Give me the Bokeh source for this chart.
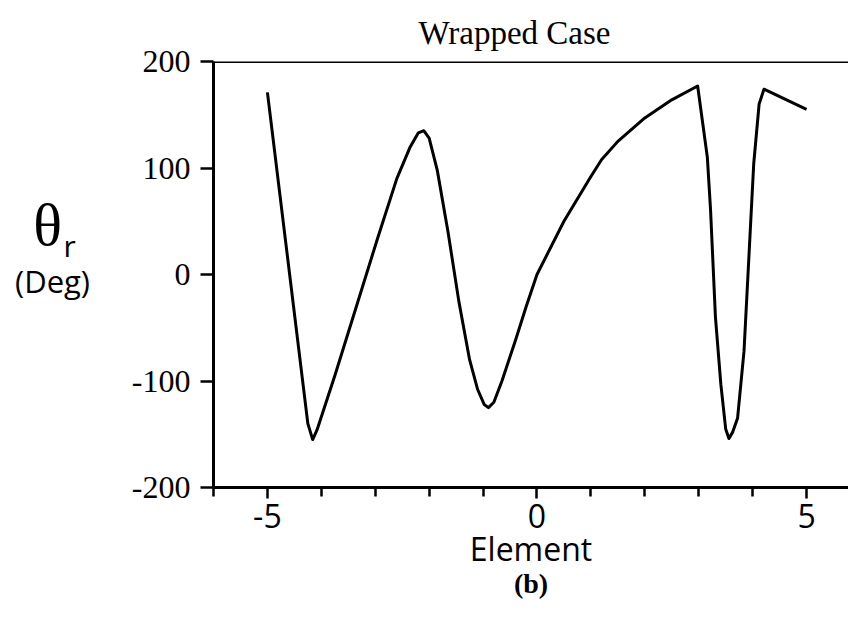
from bokeh.plotting import figure
from bokeh.layouts import row
from bokeh.models import LinearAxis, FixedTicker, Span, Range1d, Title
from bokeh.core.properties import value
from bokeh.embed import file_html
from bokeh.resources import INLINE

# ---- data ----
element = [-5.0, -4.25, -4.16, -4.08, -3.75, -3.35, -2.95, -2.6, -2.35, -2.2, -2.1, -2.0,
           -1.85, -1.65, -1.45, -1.25, -1.1, -0.98, -0.9, -0.8, -0.65, -0.4, -0.2, 0.0, 0.5,
           1.0, 1.2, 1.5, 2.0, 2.5, 2.98, 3.16, 3.22, 3.31, 3.41, 3.5, 3.56, 3.63,
           3.72, 3.84, 3.93, 4.02, 4.12, 4.21, 5.0]
theta_r = [171, -140, -155, -146, -95, -30, 35, 90, 120, 133, 135, 128,
           98, 40, -25, -80, -108, -122, -125, -120, -100, -62, -30, 0, 50,
           92, 108, 125, 147, 164, 177, 110, 60, -40, -103, -145, -154, -148,
           -135, -72, 16, 104, 160, 174, 155]

y_ticks = [-200, -100, 0, 100, 200]
x_labels = [-5, 0, 5]
x_minor = [-6, -4, -3, -2, -1, 1, 2, 3, 4]

side_texts = ["θ", "r", "(Deg)"]

# ---- left strip with the y-axis title (θr / (Deg)) ----
side = figure(width=100, height=617, x_range=Range1d(0, 100), y_range=Range1d(617, 0),
              x_axis_type=None, y_axis_type=None, output_backend="svg", toolbar_location=None,
              min_border=0)
side.outline_line_color = None
side.text(x=[47], y=[237], text=[side_texts[0]], text_align="center", text_baseline="alphabetic",
          text_font=value("Liberation Serif"), text_font_size="60px", text_color="black")
side.text(x=[63], y=[266], text=[side_texts[1]], text_align="left", text_baseline="alphabetic",
          text_font=value("Open Sans"), text_font_size="30px", text_color="black")
side.text(x=[52], y=[318], text=[side_texts[2]], text_align="center", text_baseline="alphabetic",
          text_font=value("Open Sans"), text_font_size="31px", text_color="black")

# ---- main plot ----
p = figure(width=748, height=617, x_range=Range1d(-6, 5.778), y_range=Range1d(-200, 200),
           x_axis_type=None, y_axis_type=None, output_backend="svg", toolbar_location=None)
p.min_border_left = 113
p.min_border_right = 0
p.min_border_top = 61
p.min_border_bottom = 130
p.outline_line_color = None

p.title.text = "Wrapped Case"
p.title.align = "left"
p.title.offset = 205
p.title.text_font = "Liberation Serif"
p.title.text_font_size = "33px"
p.title.text_font_style = "normal"
p.title.text_color = "black"
p.title.standoff = 22

yaxis = LinearAxis(ticker=FixedTicker(ticks=y_ticks, minor_ticks=[]),
                   major_label_overrides={-200: "-200", -100: "-100"})
yaxis.axis_line_width = 3
yaxis.major_tick_line_width = 2.5
yaxis.major_tick_out = 13
yaxis.major_tick_in = 0
yaxis.minor_tick_out = 0
yaxis.major_label_text_font = "Liberation Serif"
yaxis.major_label_text_font_size = "32px"
yaxis.major_label_text_color = "black"
yaxis.major_label_standoff = 10
p.add_layout(yaxis, "left")

xaxis = LinearAxis(ticker=FixedTicker(ticks=x_labels, minor_ticks=x_minor),
                   major_label_overrides={-5: "-5"})
xaxis.axis_line_width = 3
xaxis.major_tick_line_width = 2.5
xaxis.minor_tick_line_width = 2.5
xaxis.major_tick_out = 11
xaxis.major_tick_in = 0
xaxis.minor_tick_out = 9
xaxis.minor_tick_in = 0
xaxis.major_label_standoff = 5
xaxis.major_label_text_font = "Open Sans"
xaxis.major_label_text_font_size = "32px"
xaxis.major_label_text_color = "black"
xaxis.axis_label = "Element"
xaxis.axis_label_text_font = "Open Sans"
xaxis.axis_label_text_font_size = "32px"
xaxis.axis_label_text_font_style = "normal"
xaxis.axis_label_text_color = "black"
xaxis.axis_label_standoff = -4
p.add_layout(xaxis, "below")

p.add_layout(Title(text="(b)", align="center", text_font="Liberation Serif",
                   text_font_size="28px", text_font_style="bold", text_color="black",
                   standoff=-14), "below")

p.add_layout(Span(location=200, dimension="width", line_color="black", line_width=3))

p.line(element, theta_r, line_color="black", line_width=3, line_join="round")

layout = row(side, p, spacing=0)
open("out.html", "w").write(file_html(layout, INLINE))
